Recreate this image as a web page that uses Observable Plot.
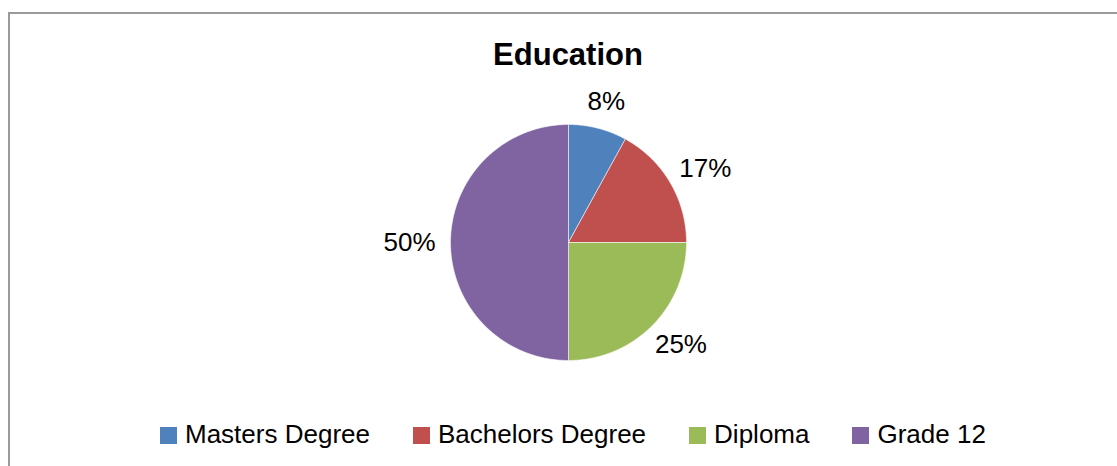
<!DOCTYPE html>
<html>
<head>
<meta charset="utf-8">
<script src="https://cdn.jsdelivr.net/npm/d3@7"></script>
<script src="https://cdn.jsdelivr.net/npm/@observablehq/plot@0.6"></script>
<style>
  html, body { margin: 0; padding: 0; background: #fff; }
  body { font-family: "Liberation Sans", Arial, sans-serif; color: #000; }
  #wrap { position: relative; width: 1117px; height: 466px; overflow: hidden; background: #fff; }
  #frame { position: absolute; left: 8px; top: 12px; width: 1200px; height: 600px; border: 2px solid #9a9a9a; box-sizing: border-box; }
  #title { position: absolute; left: 0; top: 39px; width: 1136px; text-align: center; font-weight: bold; font-size: 31px; line-height: 31px; }
  #chart { position: absolute; left: 0; top: 80px; }
  #legend { position: absolute; left: 160px; top: 421px; display: flex; gap: 43px; font-size: 26px; line-height: 26px; white-space: nowrap; }
  .item { display: flex; align-items: flex-start; }
  .sw { width: 17px; height: 17px; margin-top: 6px; margin-right: 8px; }
</style>
</head>
<body>
<div id="wrap">
  <div id="frame"></div>
  <div id="title"></div>
  <div id="chart"></div>
  <div id="legend"></div>
</div>
<script>
const title = "Education";
const categories = ["Masters Degree", "Bachelors Degree", "Diploma", "Grade 12"];
const values = [8, 17, 25, 50];
const labels = ["8%", "17%", "25%", "50%"];
const colors = ["#4F81BD", "#C0504D", "#9BBB59", "#8064A2"];

const W = 1117, H = 320;
const cx = 568, cy = 162, R = 118;   // pixel center / radius within the svg
const fontSize = 26;

document.getElementById("title").textContent = title;

const total = d3.sum(values);
let acc = 0;
const slices = categories.map((c, i) => {
  const a0 = acc / total * 2 * Math.PI;
  acc += values[i];
  const a1 = acc / total * 2 * Math.PI;
  return {category: c, value: values[i], label: labels[i], a0, a1};
});

// polygon points in unit coordinates (angle clockwise from top, y up)
const pts = [];
for (const s of slices) {
  pts.push({category: s.category, x: 0, y: 0});
  const n = Math.max(2, Math.ceil((s.a1 - s.a0) / (Math.PI / 360)));
  for (let k = 0; k <= n; k++) {
    const a = s.a0 + (s.a1 - s.a0) * k / n;
    pts.push({category: s.category, x: Math.sin(a), y: Math.cos(a)});
  }
  pts.push({category: s.category, x: 0, y: 0});
}

// label anchors: outside end, box touching a ring just outside the pie
const ring = 133 / R;
const lab = slices.map(s => {
  const m = (s.a0 + s.a1) / 2;
  const w = ((s.label.length - 1) * 0.556 + 0.889) * fontSize;
  const h = 24;
  return {
    label: s.label,
    x: ring * Math.sin(m) + Math.sin(m) * (w / 2) / R,
    y: ring * Math.cos(m) + Math.cos(m) * (h / 2) / R
  };
});

const plot = Plot.plot({
  width: W,
  height: H,
  margin: 0,
  style: {fontFamily: '"Liberation Sans", Arial, sans-serif', background: "transparent", overflow: "visible"},
  x: {domain: [-cx / R, (W - cx) / R], axis: null},
  y: {domain: [-(H - cy) / R, cy / R], axis: null},
  color: {domain: categories, range: colors},
  marks: [
    Plot.line(pts, {x: "x", y: "y", z: "category", fill: "category", stroke: "white", strokeWidth: 0.8, strokeOpacity: 0.7, curve: "linear"}),
    Plot.text(lab, {x: "x", y: "y", text: "label", fontSize: fontSize, fill: "black"})
  ]
});
document.getElementById("chart").appendChild(plot);

const legend = document.getElementById("legend");
categories.forEach((c, i) => {
  const item = document.createElement("div");
  item.className = "item";
  const sw = document.createElement("span");
  sw.className = "sw";
  sw.style.background = colors[i];
  const t = document.createElement("span");
  t.textContent = c;
  item.appendChild(sw);
  item.appendChild(t);
  legend.appendChild(item);
});
</script>
</body>
</html>
